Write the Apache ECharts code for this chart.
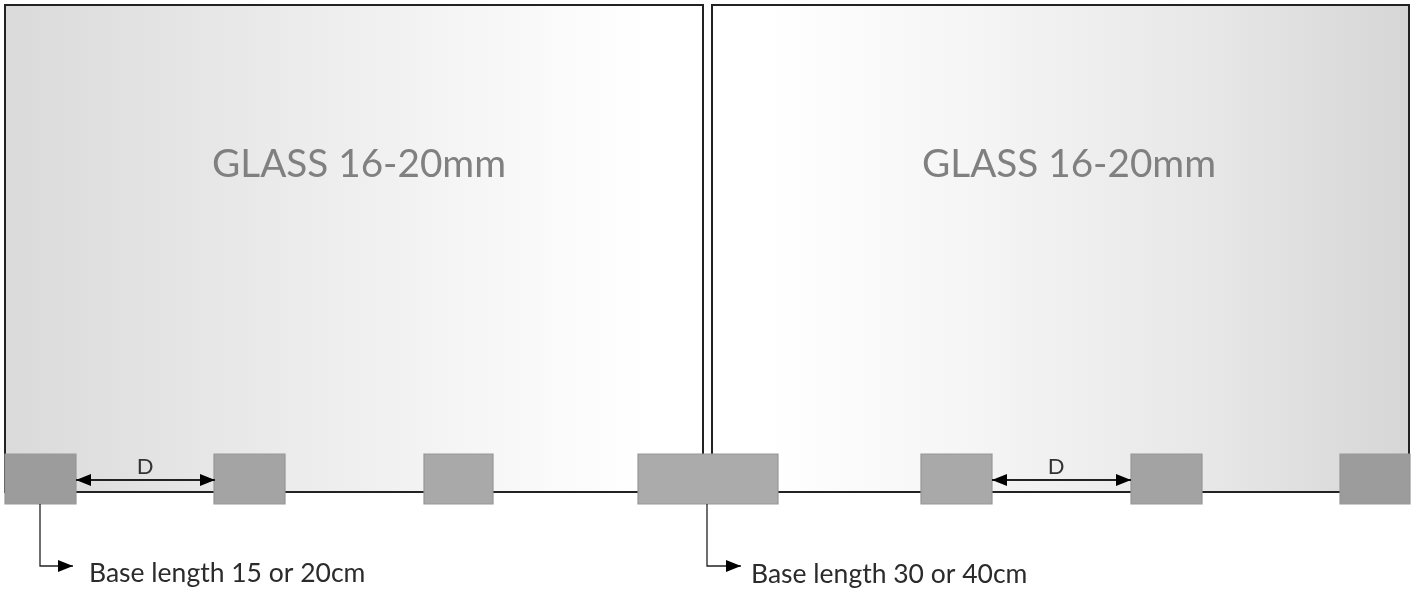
<!DOCTYPE html>
<html><head><meta charset="utf-8">
<script src="https://cdn.jsdelivr.net/npm/echarts@6/dist/echarts.min.js"></script>
<style>html,body{margin:0;padding:0;background:#fff}#c{width:1415px;height:591px}</style></head>
<body><div id="c"></div>
<script>
// Diagram values in drawing units: [x0, x1, y0, y1]
const panels = [[5, 703, 5, 492, 'L'], [712, 1409, 5, 492, 'R']];
const bases = [
  [5, 76, '#9c9c9c'], [214, 285, '#a4a4a4'], [424, 493, '#a9a9a9'], [638, 778, '#ababab'],
  [921, 992, '#a9a9a9'], [1131, 1202, '#a3a3a3'], [1340, 1410, '#9c9c9c']
];
const baseTop = 454, baseBottom = 504;
const dimensions = [[76, 215, 480], [992, 1131, 480]];
const leaders = [[40, 504, 566, 73], [707, 504, 566, 741]];
const glassLabels = [['GLASS 16-20mm', 359, 165], ['GLASS 16-20mm', 1069, 165]];
const dLabels = [['D', 145, 467], ['D', 1056, 467]];
const noteLabels = [['Base length 15 or 20cm', 89, 573], ['Base length 30 or 40cm', 751, 574]];

const FONT = 'Lato, "Open Sans", sans-serif';
const grad = side => ({type:'linear',x:0,y:0,x2:1,y2:0,colorStops: side==='L'
  ? [{offset:0,color:'#dadada'},{offset:.35,color:'#e9e9e9'},{offset:.7,color:'#f7f7f7'},{offset:.92,color:'#ffffff'},{offset:1,color:'#ffffff'}]
  : [{offset:0,color:'#ffffff'},{offset:.08,color:'#ffffff'},{offset:.35,color:'#f6f6f6'},{offset:.7,color:'#e8e8e8'},{offset:1,color:'#d6d6d6'}]});

function textSeries(data, size, color) {
  return {type:'custom', coordinateSystem:'cartesian2d', silent:true, data, z:5,
    encode:{x:1,y:2},
    renderItem:(p,api)=>{
      const c = api.coord([api.value(1), api.value(2)]);
      return {type:'text', style:{text:data[p.dataIndex][0], x:c[0], y:c[1], font:size+'px '+FONT, fill:color,
        align: size===26.5 ? 'left' : 'center', verticalAlign:'middle'}};
    }};
}
const arrowHead = (api, x, y, dir) => {
  const tip = api.coord([x, y]), L = 15, H = 6;
  return {type:'polygon', shape:{points:[tip,[tip[0]-dir*L,tip[1]-H],[tip[0]-dir*L,tip[1]+H]]}, style:{fill:'#000'}};
};
const option = {
  animation:false,
  grid:{left:0,right:0,top:0,bottom:0},
  xAxis:{type:'value',min:0,max:1415,show:false},
  yAxis:{type:'value',min:0,max:591,inverse:true,show:false},
  series:[
    {type:'custom',silent:true,data:panels,z:1,encode:{x:[0,1],y:[2,3]},
      renderItem:(p,api)=>{
        const a=api.coord([api.value(0),api.value(2)]), b=api.coord([api.value(1),api.value(3)]);
        return {type:'rect',shape:{x:a[0],y:a[1],width:b[0]-a[0],height:b[1]-a[1]},
          style:{fill:grad(panels[p.dataIndex][4]),stroke:'#222222',lineWidth:2}};
      }},
    {type:'custom',silent:true,data:bases,z:2,encode:{x:[0,1]},
      renderItem:(p,api)=>{
        const a=api.coord([api.value(0),baseTop]), b=api.coord([api.value(1),baseBottom]);
        return {type:'rect',shape:{x:a[0],y:a[1],width:b[0]-a[0],height:b[1]-a[1]},
          style:{fill:bases[p.dataIndex][2],stroke:'#979797',lineWidth:1.2}};
      }},
    {type:'custom',silent:true,data:dimensions,z:3,encode:{x:[0,1],y:2},
      renderItem:(p,api)=>{
        const x0=api.value(0),x1=api.value(1),y=api.value(2);
        const a=api.coord([x0,y]),b=api.coord([x1,y]);
        return {type:'group',children:[
          {type:'line',shape:{x1:a[0],y1:a[1],x2:b[0],y2:b[1]},style:{stroke:'#222',lineWidth:2}},
          arrowHead(api,x0,y,-1),arrowHead(api,x1,y,1)]};
      }},
    {type:'custom',silent:true,data:leaders,z:3,encode:{x:[0,3],y:[1,2]},
      renderItem:(p,api)=>{
        const x=api.value(0),y0=api.value(1),y1=api.value(2),x1=api.value(3);
        return {type:'group',children:[
          {type:'polyline',shape:{points:[api.coord([x,y0]),api.coord([x,y1]),api.coord([x1,y1])]},style:{stroke:'#222',lineWidth:1.3,fill:null}},
          arrowHead(api,x1,y1,1)]};
      }},
    textSeries(glassLabels,38.7,'#808080'),
    textSeries(dLabels,22,'#333333'),
    textSeries(noteLabels,26.5,'#2b2b2b')
  ]
};
echarts.init(document.getElementById('c'),null,{renderer:'canvas'}).setOption(option);
</script></body></html>
